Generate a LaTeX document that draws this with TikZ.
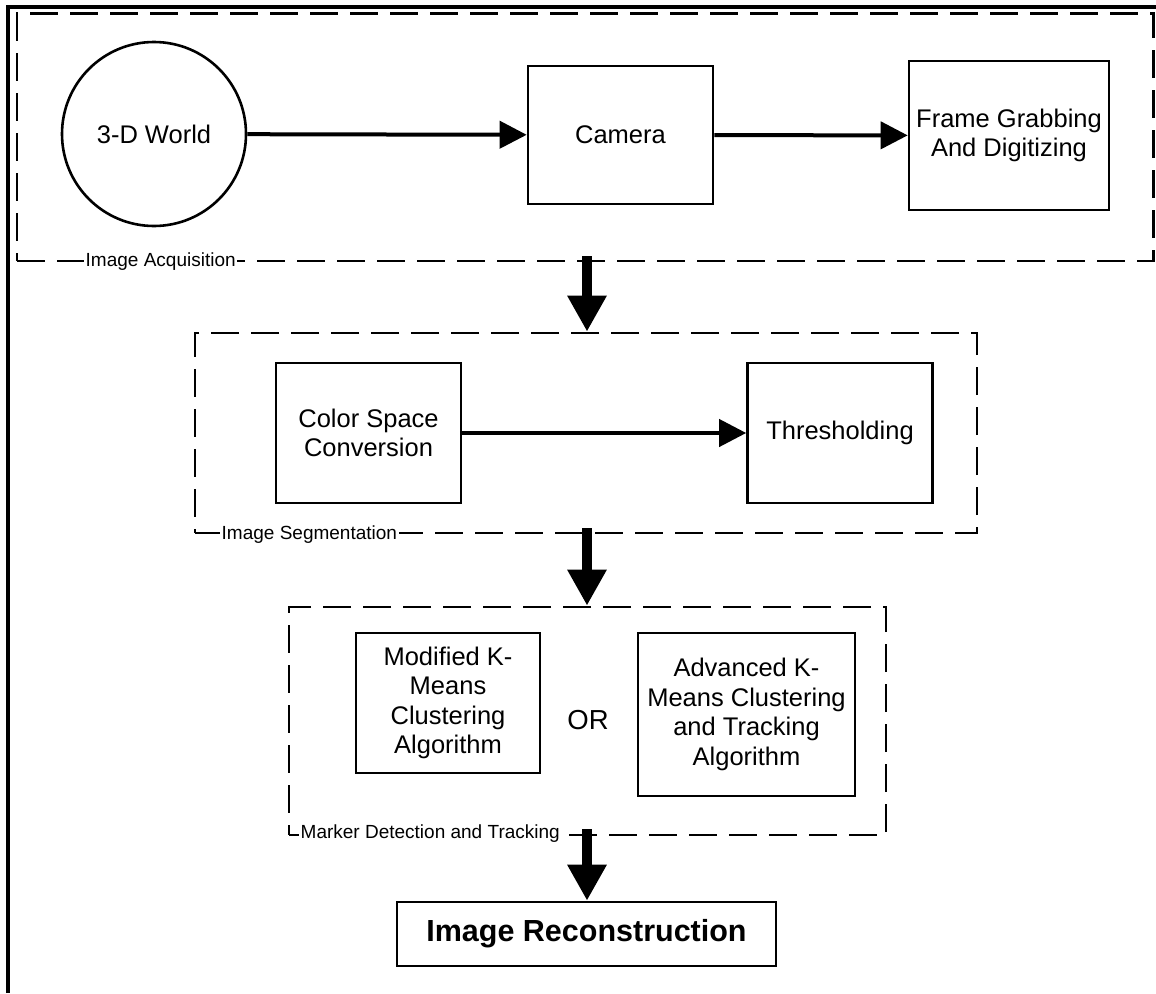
\documentclass[tikz,border=0pt]{standalone}
\usepackage{fontspec}
\setmainfont{Liberation Sans}
\usetikzlibrary{arrows.meta}
\begin{document}
\begin{tikzpicture}[x=1pt,y=-1pt,
  blockbox/.style={draw, line width=2.6pt, align=center, inner sep=0pt,
    font=\fontsize{25.5}{29.5}\selectfont},
  groupbox/.style={draw, line width=2.7pt, dash pattern=on 28pt off 12pt, inner sep=0pt},
  grouplabel/.style={fill=white, inner xsep=1.5pt, inner ysep=0pt, anchor=west,
    font=\fontsize{19}{22}\selectfont},
  flow/.style={line width=4pt, -{Triangle[length=27pt,width=27pt]}},
  stagearrow/.style={line width=10pt, -{Triangle[length=36pt,width=37pt]}}]
\useasboundingbox (0,0) rectangle (1156,993);

% outer frame (left and top edges)
\draw[line width=3.6pt] (8,993) -- (8,6.7) -- (1156,6.7);

% stage 1: image acquisition
\node[groupbox, minimum width=1136.5pt, minimum height=247.5pt] (ia) at (585.25,137.25) {};
\node[draw, circle, line width=2.6pt, minimum size=184pt, inner sep=0pt,
  font=\fontsize{25.5}{29.5}\selectfont] (world) at (154,134) {3-D World};
\node[blockbox, minimum width=185pt, minimum height=138pt] (camera) at (620.5,135) {Camera};
\node[blockbox, minimum width=200pt, minimum height=149pt] (frame) at (1009,135.5)
  {Frame Grabbing\\And Digitizing};
\draw[flow] (world) -- (camera);
\draw[flow] (camera) -- (frame);
\node[grouplabel] (ialabel) at (84,262) {Image Acquisition};

% stage 2: image segmentation
\node[groupbox, minimum width=782pt, minimum height=200pt] (seg) at (586,433) {};
\node[blockbox, minimum width=185pt, minimum height=140pt] (color) at (368.5,433)
  {Color Space\\Conversion};
\node[blockbox, minimum width=185pt, minimum height=140pt] (thresh) at (840,433)
  {Thresholding};
\draw[flow] (color) -- (thresh);
\node[grouplabel] (seglabel) at (220,535) {Image Segmentation};

% stage 3: marker detection and tracking
\node[groupbox, minimum width=597pt, minimum height=228pt] (mdt) at (587.5,721) {};
\node[blockbox, minimum width=184pt, minimum height=140pt] (modified) at (448,703)
  {Modified K-\\Means\\Clustering\\Algorithm};
\node[font=\fontsize{27.5}{30}\selectfont, inner sep=0pt] (or) at (588,720) {OR};
\node[blockbox, minimum width=217pt, minimum height=163pt] (advanced) at (746.5,714.5)
  {Advanced K-\\Means Clustering\\and Tracking\\Algorithm};
\node[grouplabel] (mdtlabel) at (299,834) {Marker Detection and Tracking};

% stage 4: reconstruction
\node[blockbox, minimum width=379pt, minimum height=64pt,
  font=\fontsize{30.5}{33}\selectfont\bfseries] (recon) at (586.5,934) {Image Reconstruction};

% arrows between stages
\coordinate (spine) at (587,0);
\path ([yshift=6pt]ia.south) coordinate (iaout)
      ([yshift=6pt]seg.south) coordinate (segout)
      ([yshift=7pt]mdt.south) coordinate (mdtout);
\draw[stagearrow] (iaout -| spine) -- (seg.north -| spine);
\draw[stagearrow] (segout -| spine) -- (mdt.north -| spine);
\draw[stagearrow] (mdtout -| spine) -- (recon.north -| spine);
\end{tikzpicture}
\end{document}
